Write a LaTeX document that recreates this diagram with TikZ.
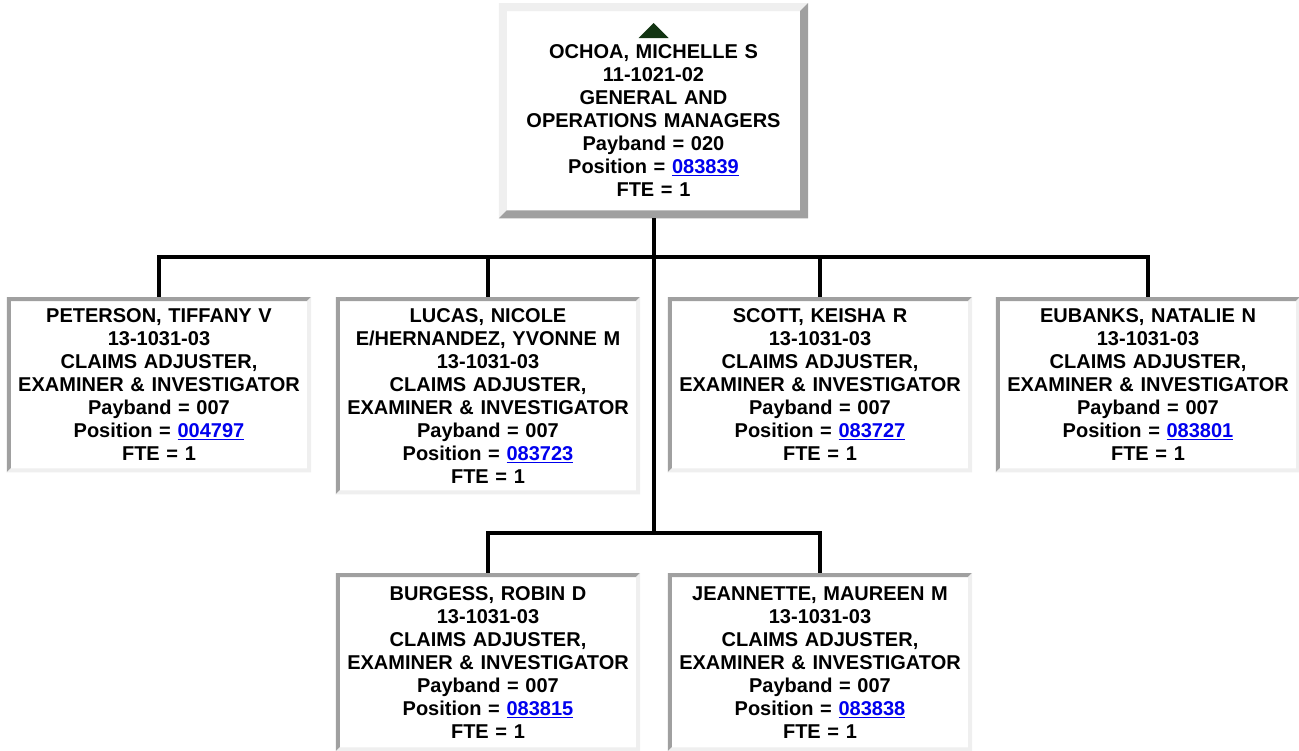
\documentclass[tikz,border=0pt]{standalone}
\usepackage{fontspec}
\setmainfont{Liberation Sans}
\usepackage{xcolor}
\usepackage{tikz}
\definecolor{lightbevel}{RGB}{239,239,239}
\definecolor{darkbevel}{RGB}{160,160,160}
\definecolor{linkblue}{RGB}{0,0,238}
\definecolor{arrowgreen}{RGB}{18,52,18}
\newcommand{\pos}[1]{\textcolor{linkblue}{\underline{#1}}}
\newcommand{\claims}{13-1031-03\\CLAIMS ADJUSTER,\\EXAMINER \& INVESTIGATOR\\Payband = 007}
% bevelled frame: node, width, top-left colour, bottom-right colour
\newcommand{\bevel}[4]{%
 \fill[#3] (#1.north west) -- (#1.north east) -- ([shift={(-#2,#2)}]#1.north east) -- ([shift={(#2,#2)}]#1.north west) -- ([shift={(#2,-#2)}]#1.south west) -- (#1.south west) -- cycle;
 \fill[#4] (#1.south east) -- (#1.south west) -- ([shift={(#2,-#2)}]#1.south west) -- ([shift={(-#2,-#2)}]#1.south east) -- ([shift={(-#2,#2)}]#1.north east) -- (#1.north east) -- cycle;}
\tikzset{
 card/.style={fill=white,anchor=north,align=center,text width=298pt,inner xsep=3pt,inner ysep=0pt,minimum height=175pt},
 wire/.style={line width=4pt}
}

\begin{document}
\begin{tikzpicture}[x=1pt,y=-1pt,font=\bfseries\fontsize{20}{23}\selectfont]
 \useasboundingbox (0,0) rectangle (1299,750);
 \coordinate (bus) at (0,257);
 \coordinate (bus2) at (0,533);
 \node[card,text width=301pt,inner xsep=4pt,minimum height=215pt] (boss) at (653.5,3) {\mbox{}\\[10pt]OCHOA, MICHELLE S\\11-1021-02\\GENERAL AND\\OPERATIONS MANAGERS\\Payband = 020\\Position = \pos{083839}\\FTE = 1};
 \node[card] (peterson) at (159,297) {PETERSON, TIFFANY V\\\claims\\Position = \pos{004797}\\FTE = 1};
 \node[card,minimum height=197pt] (lucas) at (488,297) {LUCAS, NICOLE\\E/HERNANDEZ, YVONNE M\\\claims\\Position = \pos{083723}\\FTE = 1};
 \node[card] (scott) at (820,297) {SCOTT, KEISHA R\\\claims\\Position = \pos{083727}\\FTE = 1};
 \node[card] (eubanks) at (1148,297) {EUBANKS, NATALIE N\\\claims\\Position = \pos{083801}\\FTE = 1};
 \node[card,minimum height=178pt] (burgess) at (488,573) {BURGESS, ROBIN D\\\claims\\Position = \pos{083815}\\FTE = 1};
 \node[card,minimum height=178pt] (jeannette) at (820,573) {JEANNETTE, MAUREEN M\\\claims\\Position = \pos{083838}\\FTE = 1};
 \bevel{boss}{8}{lightbevel}{darkbevel}
 \foreach \n in {peterson,lucas,scott,eubanks,burgess,jeannette}{\bevel{\n}{4}{darkbevel}{lightbevel}}
 \fill[arrowgreen] ([shift={(-15,35)}]boss.north) -- ++(30,0) -- ++(-15,-15) -- cycle;
 \foreach \n in {peterson,lucas,scott,eubanks}{\draw[wire] (boss.south) -- (boss.south |- bus) -| (\n.north);}
 \foreach \n in {burgess,jeannette}{\draw[wire] (boss.south) -- (boss.south |- bus2) -| (\n.north);}
\end{tikzpicture}
\end{document}
